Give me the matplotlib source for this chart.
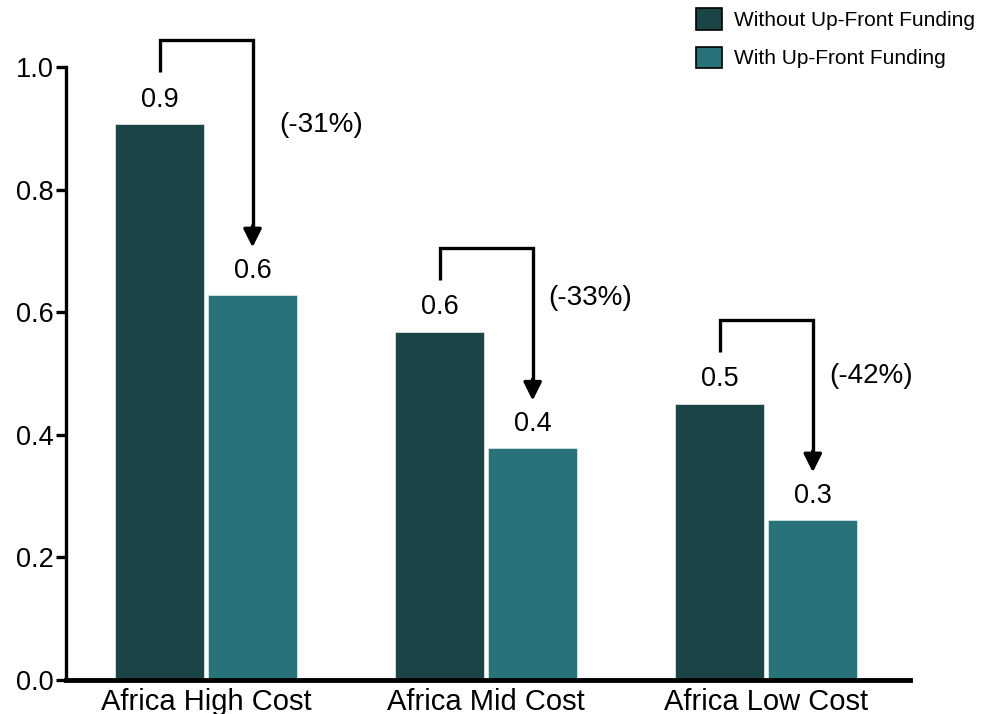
import matplotlib.pyplot as plt
import numpy as np

plt.rcParams["font.family"] = ["Liberation Sans", "DejaVu Sans"]

categories = ["Africa High Cost", "Africa Mid Cost", "Africa Low Cost"]
without_funding = [0.907, 0.568, 0.451]
with_funding = [0.628, 0.378, 0.261]
series_names = ["Without Up-Front Funding", "With Up-Front Funding"]
colors = ["#1b4447", "#28727a"]

# per-group placement of the percentage labels (x in bar units, y in data units)
pct_dx = [0.246, 0.204, 0.207]
pct_dy = [-0.002, 0.055, 0.045]

fig = plt.figure(figsize=(9.83, 7.14), dpi=100)
ax = fig.add_axes([0.0671, 0.0476, 0.8589, 0.8584])

x = np.arange(len(categories))
width = 0.318
off = width / 2 + 0.007

b1 = ax.bar(x - off, without_funding, width, color=colors[0], edgecolor="#d8e4e4",
            linewidth=0.6, label=series_names[0])
b2 = ax.bar(x + off, with_funding, width, color=colors[1], edgecolor="#d8e4e4",
            linewidth=0.6, label=series_names[1])

for bars in (b1, b2):
    for rect in bars:
        h = rect.get_height()
        ax.text(rect.get_x() + rect.get_width() / 2, h + 0.04, f"{h:.1f}",
                ha="center", va="center", fontsize=19.5)

# bracket arrows from each "without" bar down to its "with" bar
for i, (a, b) in enumerate(zip(without_funding, with_funding)):
    x0, x1 = x[i] - off, x[i] + off
    y0 = a + 0.085
    ytop = a + 0.137
    ytip = b + 0.078
    ax.plot([x0, x0, x1, x1], [y0, ytop, ytop, ytip + 0.02], color="black", lw=2.4,
            solid_joinstyle="miter", solid_capstyle="butt", clip_on=False)
    ax.annotate("", xy=(x1, ytip), xytext=(x1, ytip + 0.035),
                arrowprops=dict(arrowstyle="-|>,head_length=1.1,head_width=0.55",
                                color="black", lw=2.4, shrinkA=0, shrinkB=0),
                annotation_clip=False)
    pct = round((1 - b / a) * 100)
    ax.text(x1 + pct_dx[i], a + pct_dy[i], f"(-{pct}%)", ha="center", va="center",
            fontsize=20)

ax.set_xlim(-0.5, 2.514)
ax.set_ylim(0, 1.0)
ticks = [0.0, 0.2, 0.4, 0.6, 0.8, 1.0]
ax.set_yticks(ticks)
ax.set_yticklabels([f"{t:.1f}" for t in ticks])
ax.set_xticks(x)
ax.set_xticklabels(categories)

ax.spines["top"].set_visible(False)
ax.spines["right"].set_visible(False)
ax.spines["left"].set_linewidth(2.4)
ax.spines["bottom"].set_linewidth(3.5)
ax.tick_params(axis="y", labelsize=19.5, length=7, width=2.4, pad=2)
ax.tick_params(axis="x", labelsize=21, length=0, pad=6)

fig.legend(handles=[b1, b2], labels=series_names, loc="upper right",
           bbox_to_anchor=(1.0, 1.0), frameon=False, fontsize=15,
           handlelength=1.25, handleheight=1.2, handletextpad=0.55,
           labelspacing=0.8, borderaxespad=0.1, borderpad=0.3)
for h in fig.legends[0].legend_handles:
    h.set_edgecolor("black")
    h.set_linewidth(1.2)

fig.savefig("out.png", dpi=100)
